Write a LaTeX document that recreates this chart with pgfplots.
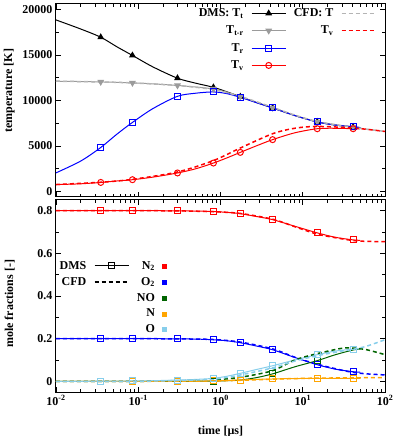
\documentclass[border=0pt]{standalone}
\usepackage{fontspec}
\setmainfont{Liberation Serif}
\usepackage{pgfplots}
\usepackage{pgfplotstable}
\pgfplotsset{compat=1.18}

\definecolor{cfdgray}{RGB}{180,180,180}
\definecolor{dmsgray}{RGB}{155,155,155}
\definecolor{nogreen}{RGB}{0,100,0}
\definecolor{norange}{RGB}{255,165,0}
\definecolor{oblue}{RGB}{135,206,235}

\newcommand{\lbl}{\fontsize{12}{13}\selectfont\bfseries}

% DMS temperatures [K]
\pgfplotstableread{
t     Tt     Ttr    Tr     Tv
0.01  18850  12120  2050   760
0.02  17850  12080  3350   850
0.035 16950  12040  4840   1000
0.055 15900  11990  6300   1160
0.085 14950  11930  7590   1300
0.15  13700  11830  9100   1580
0.3   12450  11650  10460  2040
0.5   11900  11480  10800  2500
0.82  11450  11270  10940  3130
1.2   10950  10900  10750  3700
1.74  10420  10430  10350  4300
2.7   9800   9800   9780   5000
4.3   9190   9190   9180   5700
8     8350   8350   8350   6450
15    7650   7650   7640   6900
25    7300   7300   7300   6950
41    7100   7100   7120   6900
50    7020   7020   7020   6870
}\dmsT

% CFD temperatures [K]
\pgfplotstableread{
t     T      Tv
0.01  12120  770
0.035 12040  1020
0.085 11930  1340
0.3   11650  2150
0.82  11200  3400
1.74  10450  4780
4.3   9250   6350
8     8400   6950
15    7700   7150
41    7050   6980
100   6600   6600
}\cfdT

% DMS mole fractions
\pgfplotstableread{
t     N2     O2     NO      N      O
0.01  0.800  0.200  0.000   0.000  0.000
0.02  0.800  0.200  0.000   0.000  0.000
0.035 0.800  0.200  0.000   0.000  0.001
0.055 0.800  0.200  0.000   0.000  0.001
0.085 0.800  0.200  0.000   0.000  0.002
0.15  0.800  0.200  0.000   0.000  0.003
0.3   0.799  0.199  0.000   0.001  0.006
0.5   0.798  0.198  0.0005  0.001  0.009
0.82  0.796  0.195  0.001   0.002  0.014
1.2   0.792  0.190  0.003   0.004  0.024
1.74  0.786  0.181  0.006   0.006  0.0375
2.7   0.773  0.166  0.017   0.009  0.055
4.3   0.758  0.148  0.035   0.011  0.073
8     0.727  0.112  0.068   0.013  0.100
15    0.696  0.078  0.097   0.014  0.125
25    0.675  0.057  0.125   0.014  0.142
41    0.663  0.045  0.147   0.014  0.151
50    0.661  0.043  0.151   0.014  0.153
}\dmsX

% CFD mole fractions
\pgfplotstableread{
t     N2     O2     NO     N      O
0.01  0.800  0.200  0.000  0.000  0.000
0.035 0.800  0.200  0.000  0.000  0.000
0.085 0.800  0.200  0.000  0.000  0.000
0.3   0.799  0.199  0.002  0.001  0.004
0.82  0.795  0.196  0.007  0.002  0.010
1.74  0.787  0.184  0.019  0.005  0.030
4.3   0.760  0.152  0.050  0.010  0.063
8     0.725  0.113  0.100  0.013  0.095
15    0.690  0.080  0.130  0.015  0.120
30    0.668  0.052  0.155  0.016  0.142
41    0.660  0.042  0.156  0.016  0.150
60    0.656  0.035  0.148  0.017  0.165
100   0.655  0.030  0.125  0.017  0.195
}\cfdX

\pgfplotsset{
  every axis/.append style={
    width=329pt, scale only axis,
    axis line style={line width=1pt},
    tick style={black, line width=0.6pt},
    major tick length=5pt, minor tick length=3pt,
    tick label style={font=\lbl},
    label style={font=\lbl},
    legend style={draw=none, fill=none, font=\lbl, inner sep=0pt,
      nodes={inner sep=1.5pt}, row sep=5pt},
    legend cell align=right,
    legend plot pos=right,
    legend image code/.code={\draw[mark repeat=2,mark phase=2]
      plot coordinates {(0cm,0cm) (0.6cm,0cm) (1.2cm,0cm)};},
  },
  every axis y label/.style={anchor=south, rotate=90, inner sep=0pt, font=\lbl},
}

\begin{document}
\begin{tikzpicture}
\useasboundingbox (-56pt,0pt) rectangle (341pt,436pt);

% ---- temperatures ----
\begin{axis}[
  at={(0pt,239pt)}, anchor=south west, height=193pt,
  xmode=log, xmin=0.01, xmax=100,
  xtick={0.01,0.1,1,10,100},
  minor xtick={0.02,0.03,0.04,0.05,0.06,0.07,0.08,0.09,0.2,0.3,0.4,0.5,0.6,0.7,0.8,0.9,2,3,4,5,6,7,8,9,20,30,40,50,60,70,80,90},
  xticklabel=\empty,
  ymin=-600, ymax=20600,
  ytick={0,5000,10000,15000,20000},
  yticklabels={0,5000,10000,15000,20000},
  minor y tick num=1,
  ylabel={temperature [K]},
  ylabel style={at={(axis description cs:-0.125,0.55)}},
  legend columns=4, transpose legend,
  legend style={at={(axis description cs:0.975,0.985)}, anchor=north east,
    column sep=6pt},
]
\addlegendimage{black, line width=1pt, mark=triangle*, mark size=3pt}
\addlegendentry{DMS: T\textsubscript{t}}
\addlegendimage{dmsgray, line width=1pt, mark=triangle*, mark size=3pt, mark options={rotate=180}}
\addlegendentry{T\textsubscript{t-r}}
\addlegendimage{blue, line width=1pt, mark=square, mark size=3pt}
\addlegendentry{T\textsubscript{r}}
\addlegendimage{red, line width=1pt, mark=o, mark size=3pt}
\addlegendentry{T\textsubscript{v}}
\addlegendimage{cfdgray, line width=1.5pt, dash pattern=on 4pt off 3pt}
\addlegendentry{CFD: T}
\addlegendimage{red, line width=1.5pt, dash pattern=on 4pt off 3pt}
\addlegendentry{T\textsubscript{v}}
\addlegendimage{empty legend}\addlegendentry{}
\addlegendimage{empty legend}\addlegendentry{}

\addplot[black, line width=1pt, smooth, mark=triangle*, mark size=3pt, mark repeat=2, mark phase=3, forget plot] table[x=t, y=Tt] {\dmsT};
\addplot[dmsgray, line width=1pt, smooth, mark=triangle*, mark size=3pt, mark repeat=2, mark phase=3, mark options={rotate=180}, forget plot] table[x=t, y=Ttr] {\dmsT};
\addplot[blue, line width=1pt, smooth, mark=square, mark size=3pt, mark repeat=2, mark phase=3, forget plot] table[x=t, y=Tr] {\dmsT};
\addplot[red, line width=1pt, smooth, mark=o, mark size=3pt, mark repeat=2, mark phase=3, forget plot] table[x=t, y=Tv] {\dmsT};
\addplot[cfdgray, line width=1.5pt, smooth, dash pattern=on 4pt off 3pt, no marks, forget plot] table[x=t, y=T] {\cfdT};
\addplot[red, line width=1.5pt, smooth, dash pattern=on 4pt off 3pt, no marks, forget plot] table[x=t, y=Tv] {\cfdT};
\end{axis}

% ---- mole fractions ----
\begin{axis}[
  at={(0pt,44pt)}, anchor=south west, height=192pt,
  xmode=log, xmin=0.01, xmax=100,
  xtick={0.01,0.1,1,10,100},
  minor xtick={0.02,0.03,0.04,0.05,0.06,0.07,0.08,0.09,0.2,0.3,0.4,0.5,0.6,0.7,0.8,0.9,2,3,4,5,6,7,8,9,20,30,40,50,60,70,80,90},
  xticklabels={10\textsuperscript{-2},10\textsuperscript{-1},10\textsuperscript{0},10\textsuperscript{1},10\textsuperscript{2}},
  ymin=-0.05, ymax=0.85,
  ytick={0,0.2,0.4,0.6,0.8},
  yticklabels={0,0.2,0.4,0.6,0.8},
  minor y tick num=1,
  xlabel={time [µs]},
  xlabel style={at={(axis description cs:0.5,-0.219)}, anchor=base},
  ylabel={mole fractions [-]},
  ylabel style={at={(axis description cs:-0.125,0.46)}},
  legend columns=5, transpose legend,
  legend style={at={(axis description cs:0.006,0.69)}, anchor=north west,
    column sep=6pt, row sep=3.5pt},
]
\addlegendimage{black, line width=1pt, mark=square, mark size=3pt}
\addlegendentry{DMS}
\addlegendimage{black, line width=1.5pt, dash pattern=on 4pt off 3pt}
\addlegendentry{CFD}
\addlegendimage{empty legend}\addlegendentry{}
\addlegendimage{empty legend}\addlegendentry{}
\addlegendimage{empty legend}\addlegendentry{}
\addlegendimage{only marks, red, mark=square*, mark size=2pt}
\addlegendentry{N\textsubscript{2}}
\addlegendimage{only marks, blue, mark=square*, mark size=2pt}
\addlegendentry{O\textsubscript{2}}
\addlegendimage{only marks, nogreen, mark=square*, mark size=2pt}
\addlegendentry{NO}
\addlegendimage{only marks, norange, mark=square*, mark size=2pt}
\addlegendentry{N}
\addlegendimage{only marks, oblue, mark=square*, mark size=2pt}
\addlegendentry{O}

\addplot[red, line width=1pt, smooth, mark=square, mark size=3pt, mark repeat=2, mark phase=3, forget plot] table[x=t, y=N2] {\dmsX};
\addplot[blue, line width=1pt, smooth, mark=square, mark size=3pt, mark repeat=2, mark phase=3, forget plot] table[x=t, y=O2] {\dmsX};
\addplot[nogreen, line width=1pt, smooth, mark=square, mark size=3pt, mark repeat=2, mark phase=3, forget plot] table[x=t, y=NO] {\dmsX};
\addplot[norange, line width=1pt, smooth, mark=square, mark size=3pt, mark repeat=2, mark phase=3, forget plot] table[x=t, y=N] {\dmsX};
\addplot[oblue, line width=1pt, smooth, mark=square, mark size=3pt, mark repeat=2, mark phase=3, forget plot] table[x=t, y=O] {\dmsX};
\addplot[red, line width=1.5pt, smooth, dash pattern=on 4pt off 3pt, no marks, forget plot] table[x=t, y=N2] {\cfdX};
\addplot[blue, line width=1.5pt, smooth, dash pattern=on 4pt off 3pt, no marks, forget plot] table[x=t, y=O2] {\cfdX};
\addplot[nogreen, line width=1.5pt, smooth, dash pattern=on 4pt off 3pt, no marks, forget plot] table[x=t, y=NO] {\cfdX};
\addplot[norange, line width=1.5pt, smooth, dash pattern=on 4pt off 3pt, no marks, forget plot] table[x=t, y=N] {\cfdX};
\addplot[oblue, line width=1.5pt, smooth, dash pattern=on 4pt off 3pt, no marks, forget plot] table[x=t, y=O] {\cfdX};
\end{axis}
\end{tikzpicture}
\end{document}
